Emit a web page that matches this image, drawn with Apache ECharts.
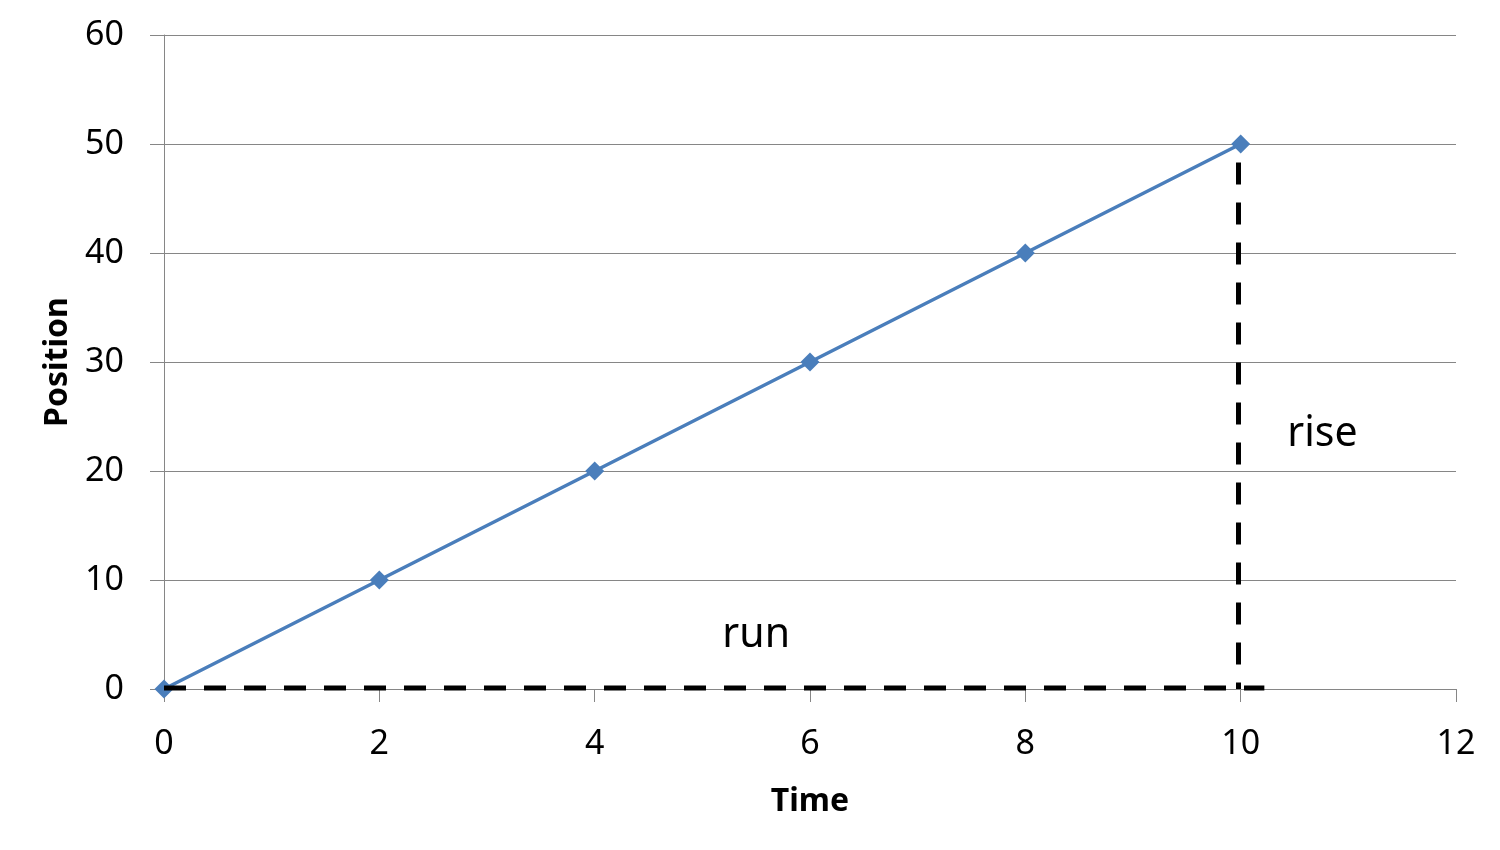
<!DOCTYPE html>
<html>
<head>
<meta charset="utf-8">
<title>Position vs Time</title>
<script src="https://cdn.jsdelivr.net/npm/echarts@6/dist/echarts.min.js"></script>
<style>
    html, body { margin: 0; padding: 0; background: #fff; }
    #chart { width: 1500px; height: 850px; }
</style>
</head>
<body>
<div id="chart"></div>
<script>
// data
var timeValues = [0, 2, 4, 6, 8, 10];
var positionValues = [0, 10, 20, 30, 40, 50];

// dashed "run" and "rise" guide lines
var runX = [0, 10.22];
var runY = [0.1, 0.1];
var riseX = [9.98, 9.98];
var riseY = [48.3, 0];

// text notes
var noteText = ['run', 'rise'];
var noteX = [5.5, 10.76];
var noteY = [4.9, 23.4];

var FONT = 'Noto Sans';
var GRID_GRAY = '#868686';

function pairs(xs, ys) {
    var out = [];
    for (var i = 0; i < xs.length; i++) {
        out.push([xs[i], ys[i]]);
    }
    return out;
}

var notes = [];
for (var i = 0; i < noteText.length; i++) {
    notes.push({ name: noteText[i], value: [noteX[i], noteY[i]] });
}

var myChart = echarts.init(document.getElementById('chart'));

var option = {
    animation: false,
    backgroundColor: '#fff',
    grid: { left: 164, right: 44, top: 35, bottom: 161 },
    xAxis: {
        type: 'value',
        min: 0,
        max: 12,
        interval: 2,
        name: 'Time',
        nameLocation: 'middle',
        nameGap: 97,
        nameTextStyle: { fontFamily: FONT, fontSize: 32, fontWeight: 'bold', color: '#000' },
        axisLine: { show: true, onZero: false, lineStyle: { color: GRID_GRAY, width: 1 } },
        axisTick: { show: true, length: 13, lineStyle: { color: GRID_GRAY } },
        axisLabel: { margin: 38, fontFamily: FONT, fontSize: 34, color: '#000' },
        splitLine: { show: false }
    },
    yAxis: {
        type: 'value',
        min: 0,
        max: 60,
        interval: 10,
        name: 'Position',
        nameLocation: 'middle',
        nameGap: 90,
        nameTextStyle: { fontFamily: FONT, fontSize: 32, fontWeight: 'bold', color: '#000' },
        axisLine: { show: true, onZero: false, lineStyle: { color: GRID_GRAY, width: 1 } },
        axisTick: { show: true, length: 14, lineStyle: { color: GRID_GRAY } },
        axisLabel: { margin: 40, fontFamily: FONT, fontSize: 34, color: '#000' },
        splitLine: { show: true, lineStyle: { color: GRID_GRAY, width: 1 } }
    },
    series: [
        {
            type: 'line',
            data: pairs(timeValues, positionValues),
            symbol: 'diamond',
            symbolSize: 19,
            lineStyle: { color: '#4A7EBB', width: 3.5 },
            itemStyle: { color: '#4A7EBB' },
            z: 2
        },
        {
            type: 'line',
            data: pairs(runX, runY),
            symbol: 'none',
            lineStyle: { color: '#000', width: 5, type: [22, 18] },
            z: 3
        },
        {
            type: 'line',
            data: pairs(riseX, riseY),
            symbol: 'none',
            lineStyle: { color: '#000', width: 5, type: [22, 18] },
            z: 3
        },
        {
            type: 'scatter',
            data: notes,
            symbolSize: 0,
            itemStyle: { opacity: 1 },
            label: {
                show: true,
                position: 'inside',
                formatter: '{b}',
                fontFamily: FONT,
                fontSize: 41,
                color: '#000',
                opacity: 1
            },
            z: 4
        }
    ]
};

myChart.setOption(option);
</script>
</body>
</html>
